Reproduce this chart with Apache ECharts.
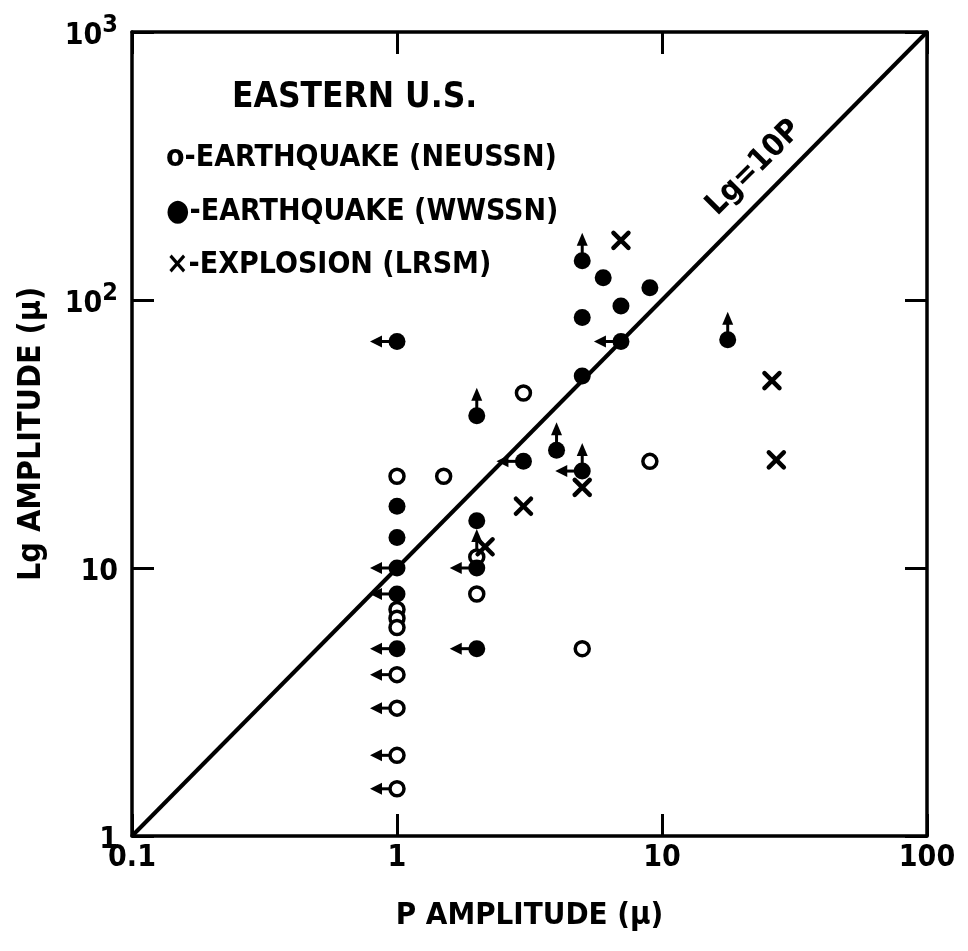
<!DOCTYPE html>
<html>
<head>
<meta charset="utf-8">
<script src="https://cdn.jsdelivr.net/npm/echarts@6/dist/echarts.min.js"></script>
<style>
* { margin: 0; padding: 0; }
#chart-container { width: 968px; height: 951px; background: #fff; }
</style>
</head>
<body>
<div id="chart-container"></div>
<script>
// P amplitude (x), Lg amplitude (y), arrow flag: L = upper bound on P, U = lower bound on Lg
const neussnPoints = [
  [1, 22, ''], [1.5, 22, ''], [3, 45, ''], [9, 25, ''], [5, 5, ''],
  [2, 8, ''], [2, 11, 'U'], [1, 7, ''], [1, 6.5, ''], [1, 6, ''],
  [1, 4, 'L'], [1, 3, 'L'], [1, 2, 'L'], [1, 1.5, 'L']
]
const wwssnPoints = [
  [1, 70, 'L'], [1, 17, ''], [1, 13, ''], [1, 10, 'L'], [1, 8, 'L'], [1, 5, 'L'],
  [2, 37, 'U'], [2, 15, ''], [2, 10, 'L'], [2, 5, 'L'],
  [3, 25, 'L'], [4, 27.5, 'U'], [5, 23, 'LU'], [5, 140, 'U'], [6, 121, ''],
  [9, 111, ''], [7, 95, ''], [5, 86, ''], [7, 70, 'L'], [5, 52, ''], [17.7, 71, 'U']
]
const explosionPoints = [
  [7, 167], [2.15, 12], [5, 20], [3, 17], [26, 50], [27, 25.3]
]
const refLine = [[0.1, 1], [100, 1000]]
const xTicks = [0.1, 1, 10, 100]
const yTickLabels = { 1: '{b|1}', 10: '{b|10}', 100: '{b|10}{s|2}', 1000: '{b|10}{s|3}' }
const legendLines = ['o-EARTHQUAKE (NEUSSN)', '●-EARTHQUAKE (WWSSN)', '×-EXPLOSION (LRSM)']

const FONT = 'DejaVu Sans Condensed'
const chart = echarts.init(document.getElementById('chart-container'))

const arrowParts = (cx, cy, flag) => {
  const parts = []
  const st = { fill: '#000', stroke: '#000', lineWidth: 3 }
  if (flag.indexOf('L') >= 0) {
    parts.push({ type: 'line', shape: { x1: cx - 6, y1: cy, x2: cx - 16, y2: cy }, style: st })
    parts.push({ type: 'polygon', shape: { points: [[cx - 27, cy], [cx - 15, cy - 6], [cx - 15, cy + 6]] }, style: { fill: '#000' } })
  }
  if (flag.indexOf('U') >= 0) {
    parts.push({ type: 'line', shape: { x1: cx, y1: cy - 6, x2: cx, y2: cy - 16 }, style: st })
    parts.push({ type: 'polygon', shape: { points: [[cx, cy - 28], [cx - 5.5, cy - 15], [cx + 5.5, cy - 15]] }, style: { fill: '#000' } })
  }
  return parts
}

const makeRender = (src, kind) => (params, api) => {
  const p = api.coord([api.value(0), api.value(1)])
  const flag = src[params.dataIndex][2] || ''
  const children = arrowParts(p[0], p[1], flag)
  if (kind === 'open') {
    children.push({ type: 'circle', shape: { cx: p[0], cy: p[1], r: 7 }, style: { fill: '#fff', stroke: '#000', lineWidth: 3.5 } })
  } else if (kind === 'filled') {
    children.push({ type: 'circle', shape: { cx: p[0], cy: p[1], r: 8.5 }, style: { fill: '#000' } })
  } else {
    const s = 7.5
    const st = { stroke: '#000', lineWidth: 4.5, lineCap: 'round' }
    children.push({ type: 'line', shape: { x1: p[0] - s, y1: p[1] - s, x2: p[0] + s, y2: p[1] + s }, style: st })
    children.push({ type: 'line', shape: { x1: p[0] - s, y1: p[1] + s, x2: p[0] + s, y2: p[1] - s }, style: st })
  }
  return { type: 'group', children: children }
}

const tickStyle = { show: true, inside: true, length: 22, lineStyle: { color: '#000', width: 3 } }
const lineStyle = { show: true, lineStyle: { color: '#000', width: 3.5 } }
const txt = { fontFamily: FONT, fontWeight: 'bold', color: '#000' }

const option = {
  animation: false,
  backgroundColor: '#fff',
  grid: { left: 132, right: 41, top: 32, bottom: 115 },
  xAxis: [
    {
      type: 'log', logBase: 10, min: 0.1, max: 100,
      name: 'P AMPLITUDE (μ)', nameLocation: 'middle', nameGap: 64,
      nameTextStyle: Object.assign({ fontSize: 31 }, txt),
      axisLine: lineStyle, axisTick: tickStyle, splitLine: { show: false }, minorTick: { show: false },
      axisLabel: Object.assign({
        fontSize: 30, margin: 7,
        formatter: (v) => xTicks.find(t => Math.abs(t - v) < 1e-6 * t) + ''
      }, txt)
    },
    {
      type: 'log', logBase: 10, min: 0.1, max: 100, position: 'top',
      axisLine: lineStyle, axisTick: tickStyle, axisLabel: { show: false }, splitLine: { show: false }
    }
  ],
  yAxis: [
    {
      type: 'log', logBase: 10, min: 1, max: 1000,
      name: 'Lg AMPLITUDE (μ)', nameLocation: 'middle', nameGap: 84, nameRotate: 90,
      nameTextStyle: Object.assign({ fontSize: 32 }, txt),
      axisLine: lineStyle, axisTick: tickStyle, splitLine: { show: false }, minorTick: { show: false },
      axisLabel: {
        margin: 14,
        formatter: (v) => yTickLabels[Math.round(v)] || '',
        rich: {
          b: Object.assign({ fontSize: 30, padding: [8, 0, 0, 0] }, txt),
          s: Object.assign({ fontSize: 25, verticalAlign: 'top', padding: [0, 0, 14, 0] }, txt)
        }
      }
    },
    {
      type: 'log', logBase: 10, min: 1, max: 1000, position: 'right',
      axisLine: lineStyle, axisTick: tickStyle, axisLabel: { show: false }, splitLine: { show: false }
    }
  ],
  graphic: [
    { type: 'text', left: 232, top: 80, style: { text: 'EASTERN U.S.', font: 'bold 35px "DejaVu Sans Condensed"', fill: '#000' } },
    { type: 'text', left: 166, top: 143, style: { text: legendLines[0], font: 'bold 30px "DejaVu Sans Condensed"', fill: '#000' } },
    { type: 'text', left: 166, top: 197, style: { text: legendLines[1], font: 'bold 30px "DejaVu Sans Condensed"', fill: '#000' } },
    { type: 'text', left: 166, top: 250, style: { text: legendLines[2], font: 'bold 30px "DejaVu Sans Condensed"', fill: '#000' } },
    { type: 'text', x: 754, y: 168, rotation: Math.PI / 4, style: { text: 'Lg=10P', font: 'bold 31px "DejaVu Sans Condensed"', fill: '#000', align: 'center', verticalAlign: 'middle' } }
  ],
  series: [
    {
      type: 'line', data: refLine, symbol: 'none', silent: true,
      lineStyle: { color: '#000', width: 4 }
    },
    { type: 'custom', data: neussnPoints.map(d => [d[0], d[1]]), renderItem: makeRender(neussnPoints, 'open'), z: 3 },
    { type: 'custom', data: wwssnPoints.map(d => [d[0], d[1]]), renderItem: makeRender(wwssnPoints, 'filled'), z: 3 },
    { type: 'custom', data: explosionPoints.map(d => [d[0], d[1]]), renderItem: makeRender(explosionPoints, 'cross'), z: 3 }
  ]
}

chart.setOption(option)
</script>
</body>
</html>
